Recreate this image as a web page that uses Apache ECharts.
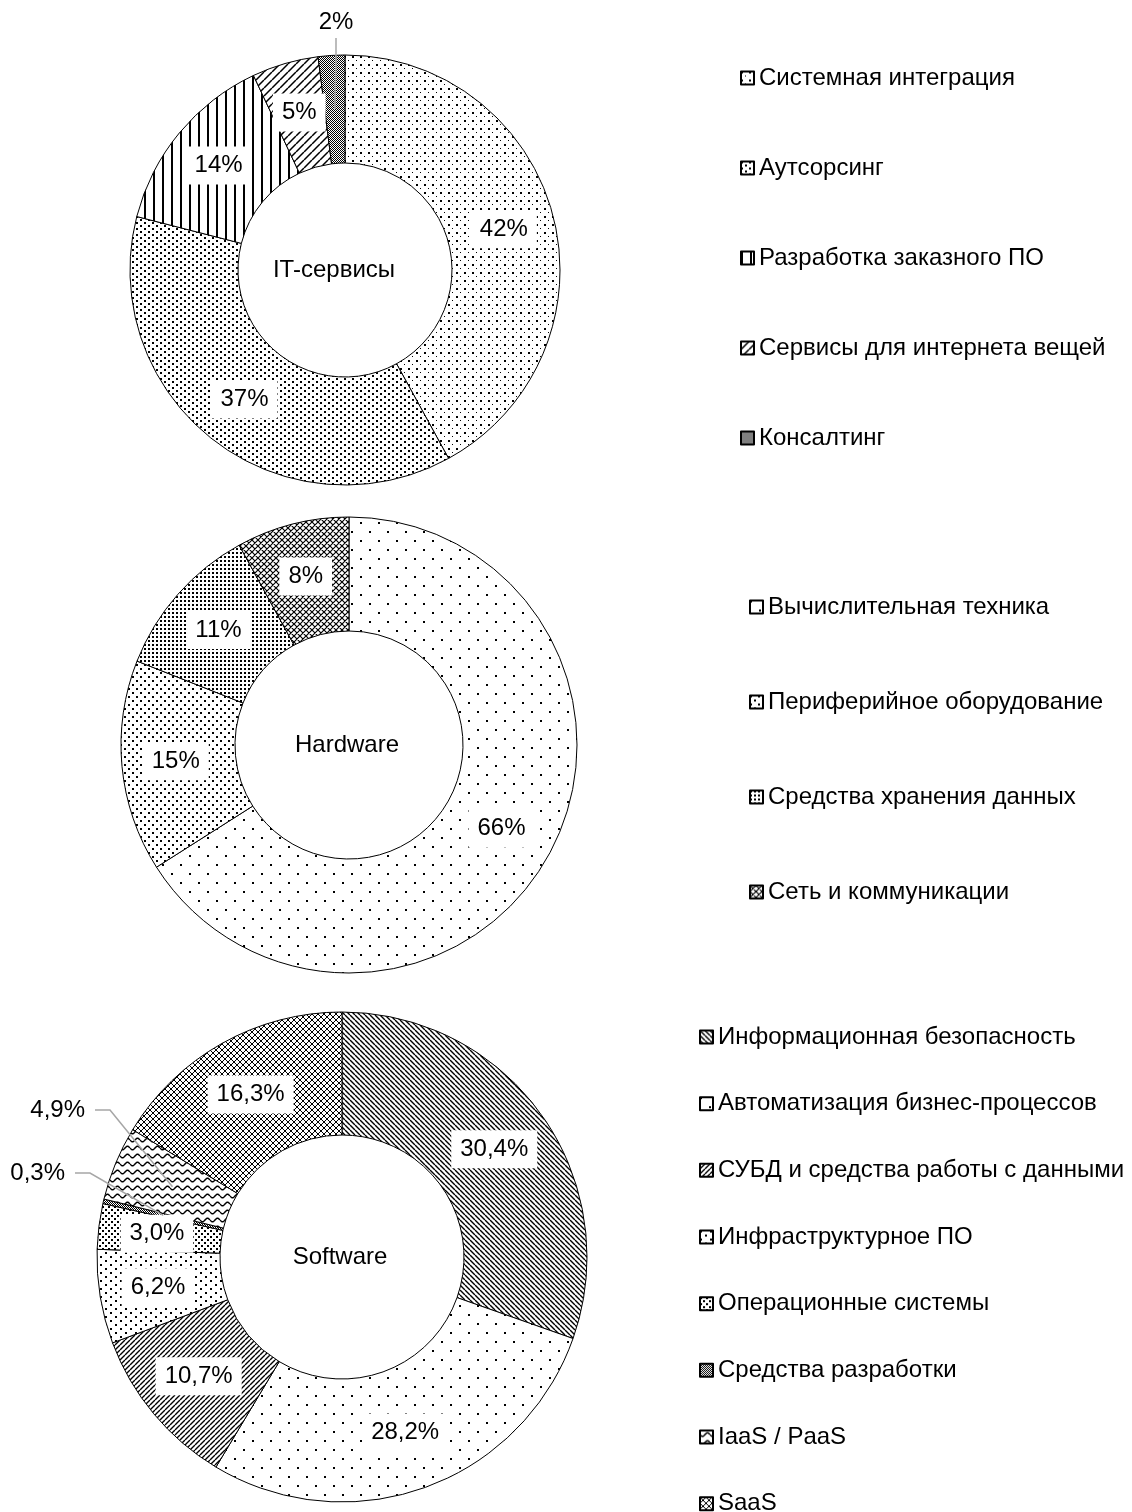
<!DOCTYPE html>
<html><head><meta charset="utf-8">
<script src="https://cdn.jsdelivr.net/npm/echarts@6/dist/echarts.min.js"></script>
<style>html,body{margin:0;padding:0;background:#fff}#c{width:1132px;height:1512px}</style>
</head><body><div id="c"></div>
<script>
// ---------- DATA ----------
const chartTitles = ['IT-сервисы', 'Hardware', 'Software'];
const itCategories = ['Системная интеграция', 'Аутсорсинг', 'Разработка заказного ПО', 'Сервисы для интернета вещей', 'Консалтинг'];
const itValues = [42, 37, 14, 5, 2];
const hwCategories = ['Вычислительная техника', 'Периферийное оборудование', 'Средства хранения данных', 'Сеть и коммуникации'];
const hwValues = [66, 15, 11, 8];
const swCategories = ['Информационная безопасность', 'Автоматизация бизнес-процессов', 'СУБД и средства работы с данными', 'Инфраструктурное ПО', 'Операционные системы', 'Средства разработки', 'IaaS / PaaS', 'SaaS'];
const swValues = [30.4, 28.2, 10.7, 6.2, 3.0, 0.3, 4.9, 16.3];
const itOutside = ['Консалтинг'];
const hwOutside = [];
const swOutside = ['Средства разработки', 'IaaS / PaaS'];

// ---------- LAYOUT / STYLE ----------
const FONT = '"Liberation Sans", Arial, sans-serif';
const layouts = [
  { center: [345, 270], r0: 107, r: 215 },
  { center: [349, 745], r0: 114, r: 228 },
  { center: [342, 1257], r0: 122, r: 245 }
];
const titleDx = [-11, -2, -2];
const itLabelOffsets = { 'Консалтинг': [-9, -248, 'center'] };
const swLabelOffsets = { 'IaaS / PaaS': [-247, -147, 'right'], 'Средства разработки': [-267, -84, 'right'] };

function tile(w, h, draw) {
  const c = document.createElement('canvas');
  c.width = w; c.height = h;
  const g = c.getContext('2d');
  g.fillStyle = '#fff'; g.fillRect(0, 0, w, h);
  g.fillStyle = '#000'; g.strokeStyle = '#000';
  draw(g, w, h);
  return { image: c, repeat: 'repeat' };
}
const dots = (w, h, pts) => tile(w, h, g => pts.forEach(p => g.fillRect(p[0], p[1], p[2] || 2, p[2] || 2)));
const diag = (s, lw, up) => tile(s, s, g => {
  g.lineWidth = lw; g.beginPath();
  for (const o of [-s, 0, s]) {
    if (up) { g.moveTo(o, s); g.lineTo(o + s, 0); } else { g.moveTo(o, 0); g.lineTo(o + s, s); }
  }
  g.stroke();
});
const cross = (s, lw) => tile(s, s, g => {
  g.lineWidth = lw; g.beginPath();
  for (const o of [-s, 0, s]) { g.moveTo(o, s); g.lineTo(o + s, 0); g.moveTo(o, 0); g.lineTo(o + s, s); }
  g.stroke();
});
const vlines = (s, lw) => tile(s, 1, g => g.fillRect(0, 0, lw, 1));
const checker = () => tile(2, 2, g => { g.fillRect(0, 0, 1, 1); g.fillRect(1, 1, 1, 1); });
const waves = (w, h) => tile(w, h, g => {
  g.lineWidth = 1.5; g.beginPath();
  for (let x = 0; x <= w; x += 0.5) {
    const y = h / 2 + 1.8 * Math.sin(2 * Math.PI * x / w);
    if (x === 0) g.moveTo(x, y); else g.lineTo(x, y);
  }
  g.stroke();
});

const itPatterns = [
  dots(8, 8, [[0, 0, 2], [4, 4, 1]]),
  dots(8, 6, [[0, 0, 2], [4, 3, 2]]),
  vlines(9, 2),
  diag(8, 1.5, true),
  checker()
];
const hwPatterns = [
  dots(18, 18, [[0, 0, 2], [9, 9, 2]]),
  dots(8, 8, [[0, 0, 2], [4, 4, 2]]),
  dots(4, 4, [[0, 0, 2]]),
  cross(6, 1.2)
];
const swPatterns = [
  diag(5, 1.4, false),
  dots(18, 18, [[0, 0, 2], [9, 9, 2]]),
  diag(5, 1.4, true),
  dots(10, 8, [[0, 0, 2], [5, 4, 2]]),
  dots(6, 6, [[0, 0, 2], [3, 3, 2]]),
  checker(),
  waves(10, 8),
  cross(6, 1)
];

function pctFmt(dec) {
  return p => (dec ? p.value.toFixed(1).replace('.', ',') : String(p.value)) + '%';
}

function mainSeries(i, cats, vals, pats, outside, dec) {
  const L = layouts[i];
  return {
    type: 'pie', name: chartTitles[i], center: L.center, radius: [L.r0, L.r], z: 1,
    startAngle: 90, clockwise: true, avoidLabelOverlap: false, silent: true, animation: false,
    itemStyle: { borderColor: '#000', borderWidth: 1 },
    label: {
      position: 'inside', formatter: pctFmt(dec), fontFamily: FONT, fontSize: 24, color: '#000',
      backgroundColor: '#fff', padding: [7, 9], lineHeight: 24
    },
    labelLine: { show: false },
    emphasis: { disabled: true },
    data: cats.map((n, k) => ({ name: n, value: vals[k], itemStyle: { color: pats[k] }, label: { show: outside.indexOf(n) < 0 } }))
  };
}

function outerSeries(i, cats, vals, outside, dec, offsets) {
  const L = layouts[i];
  const mid = (L.r0 + L.r) / 2;
  return {
    type: 'pie', center: L.center, radius: [0, mid], startAngle: 90, clockwise: true, z: 5,
    silent: true, animation: false, avoidLabelOverlap: false,
    itemStyle: { color: 'rgba(0,0,0,0)', borderWidth: 0 },
    emphasis: { disabled: true },
    label: { position: 'outside', formatter: pctFmt(dec), fontFamily: FONT, fontSize: 24, color: '#000', padding: [4, 10], lineHeight: 24 },
    labelLine: { show: true, length: 20, length2: 15, lineStyle: { color: '#a6a6a6', width: 1.5 } },
    labelLayout: p => {
      const o = offsets[cats[p.dataIndex]];
      if (!o) return {};
      return { x: L.center[0] + o[0], y: L.center[1] + o[1], align: o[2], verticalAlign: 'middle' };
    },
    data: cats.map((n, k) => ({
      name: n, value: vals[k],
      label: { show: outside.indexOf(n) >= 0 },
      labelLine: { show: outside.indexOf(n) >= 0 }
    }))
  };
}

function legendFor(cats, left, top, gap) {
  return {
    orient: 'vertical', left: left, top: top, height: 520, padding: 0, itemGap: gap, itemWidth: 13, itemHeight: 13,
    icon: 'rect', selectedMode: false, data: cats,
    textStyle: { fontFamily: FONT, fontSize: 24, color: '#000', lineHeight: 24 }
  };
}

const chart = echarts.init(document.getElementById('c'), null, { renderer: 'canvas' });
chart.setOption({
  backgroundColor: '#fff',
  animation: false,
  legend: [
    legendFor(itCategories, 740, 66, 66),
    legendFor(hwCategories, 749, 595, 71),
    legendFor(swCategories, 699, 1025, 42.67)
  ],
  graphic: chartTitles.map((t, i) => ({
    type: 'text', x: layouts[i].center[0] + titleDx[i], y: layouts[i].center[1],
    style: { text: t, fontFamily: FONT, fontSize: 24, fill: '#000', align: 'center', verticalAlign: 'middle' }
  })),
  series: [
    mainSeries(0, itCategories, itValues, itPatterns, itOutside, false),
    mainSeries(1, hwCategories, hwValues, hwPatterns, hwOutside, false),
    mainSeries(2, swCategories, swValues, swPatterns, swOutside, true),
    outerSeries(0, itCategories, itValues, itOutside, false, itLabelOffsets),
    outerSeries(2, swCategories, swValues, swOutside, true, swLabelOffsets)
  ]
});
</script>
</body></html>
